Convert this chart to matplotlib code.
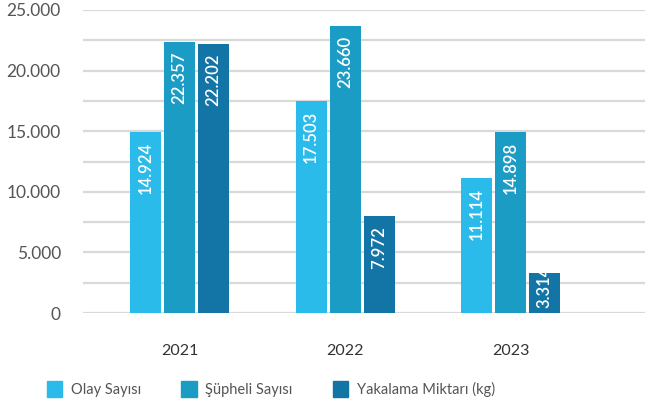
import numpy as np
import matplotlib
matplotlib.use("Agg")
import matplotlib.pyplot as plt
from matplotlib.patches import Patch

years = ["2021", "2022", "2023"]
olay = [14924, 17503, 11114]
supheli = [22357, 23660, 14898]
yakalama = [22202, 7972, 3314]
series_names = ["Olay Sayısı", "Şüpheli Sayısı", "Yakalama Miktarı (kg)"]
colors = ["#2bbbea", "#1b9cc5", "#1374a6"]


def fmt(v):
    return f"{v:,.0f}".replace(",", ".")


plt.rcParams["font.family"] = ["Lato", "DejaVu Sans"]

fig = plt.figure(figsize=(6.52, 4.03), dpi=100)
ax = fig.add_axes([83 / 652, 1 - 313 / 403, (645 - 83) / 652, (313 - 10) / 403])

x = np.arange(len(years))
width = 0.187
step = 0.205
for i, (vals, col) in enumerate(zip([olay, supheli, yakalama], colors)):
    pos = x + (i - 1) * step
    ax.bar(pos, vals, width=width, color=col, zorder=3)
    for p, v in zip(pos, vals):
        # short bars: label sits on the baseline instead of under the top
        if v < 5500:
            ax.text(p, 400, fmt(v), rotation=90, ha="center", va="bottom",
                    color="white", fontsize=12, fontweight="semibold", zorder=4)
        else:
            ax.text(p, v - 800, fmt(v), rotation=90, ha="center", va="top",
                    color="white", fontsize=12, fontweight="semibold", zorder=4)

ax.set_xlim(-0.583, 2.81)
ax.set_ylim(0, 25000)
ticks = np.arange(0, 25001, 2500)
ax.set_yticks(ticks)
ax.set_yticklabels([fmt(t) if t % 5000 == 0 else "" for t in ticks])
ax.grid(axis="y", color="#d9d9d9", linewidth=1.6, zorder=0)
ax.tick_params(axis="y", length=0, pad=16, labelsize=12.5, labelcolor="#555555")
ax.set_xticks(x)
ax.set_xticklabels(years)
ax.tick_params(axis="x", length=0, pad=22, labelsize=11.5, labelcolor="#333333")
for s in ["top", "right", "left", "bottom"]:
    ax.spines[s].set_visible(False)

handles = [Patch(color=c) for c in colors]
fig.legend(handles, series_names, loc="center left", bbox_to_anchor=(47 / 652, 0.035),
           ncol=3, frameon=False, handlelength=1.05, handleheight=1.3,
           columnspacing=2.75, handletextpad=0.6, borderpad=0, borderaxespad=0,
           prop={"family": ["Lato", "DejaVu Sans"], "size": 10.5},
           labelcolor="#555555")

fig.savefig("out.png", dpi=100)
